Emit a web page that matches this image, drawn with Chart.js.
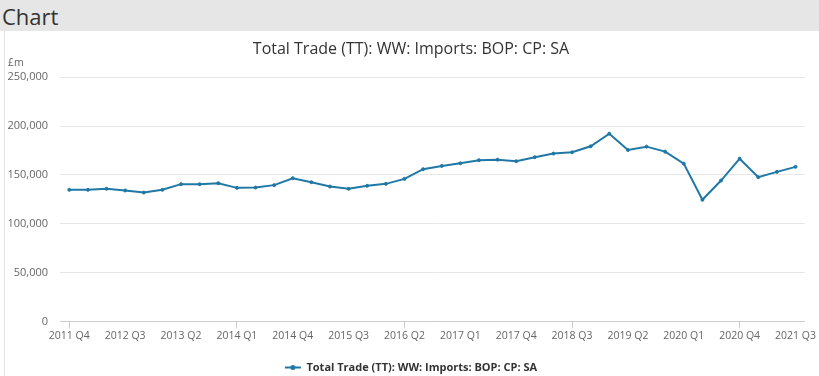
<!DOCTYPE html>
<html>
<head>
<meta charset="utf-8">
<script src="https://cdn.jsdelivr.net/npm/chart.js@4"></script>
<style>
  html, body { margin: 0; padding: 0; background: #ffffff; width: 819px; height: 376px; overflow: hidden; font-family: "Open Sans", sans-serif; }
  #hdr { position: absolute; left: 0; top: 0; width: 819px; height: 31px; background: #e6e6e6; }
  #hdr span { position: absolute; left: 2px; top: 2px; font-size: 22px; color: #333; line-height: 28px; }
  #panel { position: absolute; left: 4px; top: 31px; width: 813px; height: 352px; border-left: 1px solid #e3e3e3; }
  #wrap { position: absolute; left: 0; top: 0; width: 812px; height: 352px; }
</style>
</head>
<body>
<div id="hdr"><span>Chart</span></div>
<div id="panel"><div id="wrap"><canvas id="c"></canvas></div></div>
<script>
const chartTitle = "Total Trade (TT): WW: Imports: BOP: CP: SA";
const seriesName = "Total Trade (TT): WW: Imports: BOP: CP: SA";
const unitLabel = "£m";
const quarters = [
  "2011 Q4",
  "2012 Q1","2012 Q2","2012 Q3","2012 Q4",
  "2013 Q1","2013 Q2","2013 Q3","2013 Q4",
  "2014 Q1","2014 Q2","2014 Q3","2014 Q4",
  "2015 Q1","2015 Q2","2015 Q3","2015 Q4",
  "2016 Q1","2016 Q2","2016 Q3","2016 Q4",
  "2017 Q1","2017 Q2","2017 Q3","2017 Q4",
  "2018 Q1","2018 Q2","2018 Q3","2018 Q4",
  "2019 Q1","2019 Q2","2019 Q3","2019 Q4",
  "2020 Q1","2020 Q2","2020 Q3","2020 Q4",
  "2021 Q1","2021 Q2","2021 Q3"
];
const tickLabels = ["2011 Q4","2012 Q3","2013 Q2","2014 Q1","2014 Q4","2015 Q3","2016 Q2","2017 Q1","2017 Q4","2018 Q3","2019 Q2","2020 Q1","2020 Q4","2021 Q3"];
const imports = [
  134700,
  134700,135700,134000,131900,
  134700,140500,140500,141500,
  136700,137000,139500,146600,
  142500,138100,135700,138800,
  140800,145900,155800,159200,
  161900,165000,165600,164000,
  168100,171800,173100,179300,
  192200,175500,178900,173800,
  161500,124500,144200,166600,
  147700,153100,158200
];
const yTicks = [0, 50000, 100000, 150000, 200000, 250000];

const lineColor = "#1f78a6";

const unitPlugin = {
  id: "unitPlugin",
  afterDraw(chart) {
    const ctx = chart.ctx;
    const y = chart.scales.y;
    ctx.save();
    ctx.font = "10.5px 'Open Sans'";
    ctx.fillStyle = "#666";
    ctx.textAlign = "left";
    ctx.textBaseline = "middle";
    ctx.fillText(unitLabel, 3, y.getPixelForValue(250000) - 14);
    const lg = chart.legend;
    if (lg && lg.legendHitBoxes && lg.legendHitBoxes[0]) {
      const hb = lg.legendHitBoxes[0];
      const cy = hb.top + hb.height / 2;
      ctx.strokeStyle = lineColor;
      ctx.lineWidth = 2;
      ctx.beginPath();
      ctx.moveTo(hb.left, cy);
      ctx.lineTo(hb.left + 16, cy);
      ctx.stroke();
      ctx.fillStyle = lineColor;
      ctx.beginPath();
      ctx.arc(hb.left + 8, cy, 2.5, 0, Math.PI * 2);
      ctx.fill();
    }
    ctx.restore();
  }
};

new Chart(document.getElementById("c"), {
  type: "line",
  data: {
    labels: quarters,
    datasets: [{
      label: seriesName,
      data: imports,
      borderColor: lineColor,
      backgroundColor: lineColor,
      borderWidth: 2,
      pointRadius: 1.5,
      pointBorderWidth: 1,
      pointHoverRadius: 1.5,
      tension: 0,
      fill: false
    }]
  },
  options: {
    responsive: true,
    maintainAspectRatio: false,
    animation: false,
    layout: { padding: { left: 0, right: 0, top: 0, bottom: 0 } },
    plugins: {
      title: {
        display: true,
        text: chartTitle,
        color: "#333",
        font: { family: "'Open Sans'", size: 16, weight: "normal" },
        padding: { top: 9, bottom: 18 }
      },
      legend: {
        display: true,
        position: "bottom",
        labels: {
          boxWidth: 16,
          boxHeight: 2,
          color: "#333",
          font: { family: "'Open Sans'", size: 11, weight: "bold" },
          padding: 5,
          generateLabels: (chart) => {
            const items = Chart.defaults.plugins.legend.labels.generateLabels(chart);
            items.forEach(i => { i.fillStyle = "rgba(0,0,0,0)"; i.strokeStyle = "rgba(0,0,0,0)"; i.lineWidth = 0; });
            return items;
          }
        }
      },
      tooltip: { enabled: false }
    },
    scales: {
      x: {
        offset: true,
        border: { display: true, color: "#cccccc" },
        grid: {
          drawOnChartArea: false,
          drawTicks: true,
          tickLength: 7,
          offset: false,
          color: (c) => tickLabels.includes(quarters[c.index]) ? "#cccccc" : "rgba(0,0,0,0)"
        },
        ticks: {
          autoSkip: false,
          maxRotation: 0,
          color: "#666",
          font: { family: "'Open Sans'", size: 10.5 },
          padding: 1,
          callback: function(v, i) { const l = quarters[i]; return tickLabels.includes(l) ? l : null; }
        },
        afterFit: (s) => { s.height += 14; }
      },
      y: {
        min: 0,
        max: 250000,
        border: { display: false },
        grid: { color: "#e6e6e6", drawTicks: false },
        afterBuildTicks: (s) => { s.ticks = yTicks.map(v => ({ value: v })); },
        ticks: {
          color: "#666",
          font: { family: "'Open Sans'", size: 11 },
          padding: 12,
          callback: (v) => v.toLocaleString("en-GB")
        },
        afterFit: (s) => { s.width = 55; }
      }
    }
  },
  plugins: [unitPlugin]
});
</script>
</body>
</html>
